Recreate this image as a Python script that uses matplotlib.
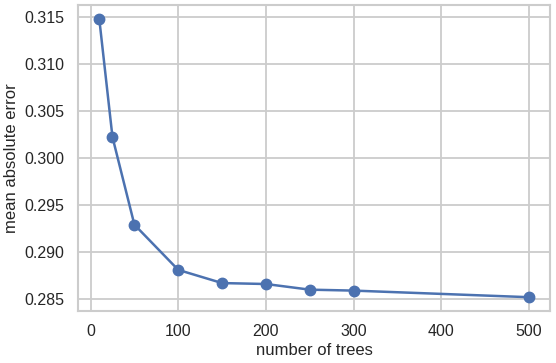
import numpy as np
import matplotlib
matplotlib.use('Agg')
import matplotlib.pyplot as plt
import seaborn as sns

n_trees = [10, 25, 50, 100, 150, 200, 250, 300, 500]
mae = [0.3147, 0.3022, 0.2929, 0.2881, 0.2867, 0.2866, 0.2860, 0.2859, 0.2852]

sns.set_theme(style='whitegrid', rc={'grid.linewidth': 1.3, 'axes.linewidth': 1.5})
plt.rcParams['font.family'] = ['Liberation Sans', 'DejaVu Sans']

fig, ax = plt.subplots(figsize=(5.56, 3.63), dpi=100)
ax.plot(n_trees, mae, marker='o', color='#4c72b0', lw=1.8, ms=7.5)
ax.set_xlabel('number of trees', fontsize=12, labelpad=3)
ax.set_ylabel('mean absolute error', fontsize=12, labelpad=4)
ax.tick_params(labelsize=11.5)
ax.set_yticks([0.285, 0.290, 0.295, 0.300, 0.305, 0.310, 0.315])
fig.subplots_adjust(left=0.14, right=0.99, top=0.985, bottom=0.143)
fig.savefig('out.png')
